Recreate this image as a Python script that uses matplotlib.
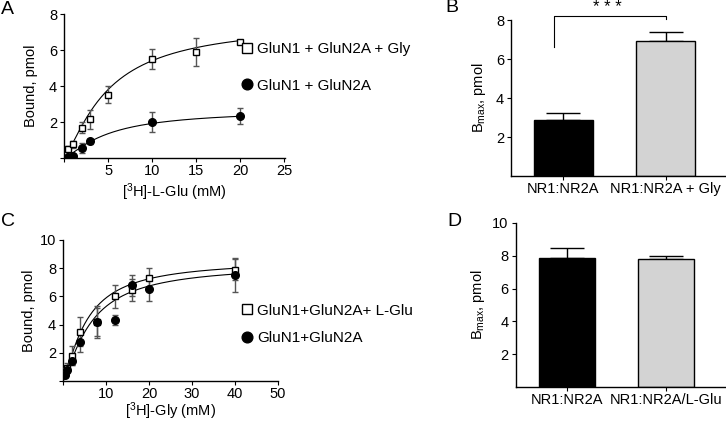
import numpy as np
import matplotlib
matplotlib.use("Agg")
import matplotlib.pyplot as plt

plt.rcParams["font.family"] = ["Liberation Sans", "DejaVu Sans"]
plt.rcParams["font.size"] = 10.5
plt.rcParams["axes.linewidth"] = 1.0
plt.rcParams["xtick.major.size"] = 3
plt.rcParams["ytick.major.size"] = 3
plt.rcParams["xtick.major.pad"] = 1.5
plt.rcParams["ytick.major.pad"] = 2

# Panel A: [3H]-L-Glu saturation binding
glu_conc_gly = [0.5, 1, 2, 3, 5, 10, 15, 20]
glu_bound_gly = [0.52, 0.75, 1.68, 2.15, 3.52, 5.5, 5.88, 6.45]
glu_err_gly = [0.12, 0.2, 0.3, 0.52, 0.47, 0.58, 0.76, 0.12]
glu_conc = [0.5, 1, 2, 3, 10, 20]
glu_bound = [0.04, 0.13, 0.55, 0.93, 1.98, 2.33]
glu_err = [0.04, 0.05, 0.3, 0.15, 0.55, 0.43]
# Hill fit parameters (Bmax, Kd, n)
fit_a_gly = (7.6, 5.0, 1.3)
fit_a = (2.7, 5.0, 1.3)

# Panel B: Bmax
b_labels = ["NR1:NR2A", "NR1:NR2A + Gly"]
b_means = [2.85, 6.9]
b_errs = [0.4, 0.46]

# Panel C: [3H]-Gly saturation binding
gly_conc_glu = [0.5, 1, 2, 4, 8, 12, 16, 20, 40]
gly_bound_glu = [0.6, 0.95, 1.8, 3.5, 4.2, 6.0, 6.45, 7.3, 7.9]
gly_err_glu = [0.3, 0.3, 0.7, 1.03, 1.15, 0.8, 0.75, 0.72, 0.74]
gly_conc = [0.5, 1, 2, 4, 8, 12, 16, 20, 40]
gly_bound = [0.45, 0.8, 1.45, 2.75, 4.2, 4.3, 6.8, 6.5, 7.5]
gly_err = [0.2, 0.25, 0.35, 0.7, 1.0, 0.36, 0.75, 0.86, 1.2]
fit_c_glu = (8.6, 5.5, 1.3)
fit_c = (8.3, 6.5, 1.3)

# Panel D: Bmax
d_labels = ["NR1:NR2A", "NR1:NR2A/L-Glu"]
d_means = [7.85, 7.82]
d_errs = [0.62, 0.18]

bar_colors = ["black", "#d3d3d3"]
err_gray = "#555555"


def hill(x, params):
    bmax, kd, n = params
    return bmax * x ** n / (kd ** n + x ** n)


def style(ax):
    ax.spines["top"].set_visible(False)
    ax.spines["right"].set_visible(False)


def binding_panel(ax, xs, ys, es, fits, labels):
    markers = [dict(marker="s", mfc="white", mec="black", ms=5, mew=1.0),
               dict(marker="o", mfc="black", mec="black", ms=5.5, mew=1.0)]
    handles = []
    for x, y, e, fit, lab, mk in zip(xs, ys, es, fits, labels, markers):
        xx = np.linspace(0, max(x), 200)
        ax.plot(xx, hill(xx, fit), color="black", lw=0.8, zorder=2)
        ax.errorbar(x, y, yerr=e, fmt="none", ecolor=err_gray, elinewidth=1.0,
                    capsize=2.5, capthick=1.0, zorder=3)
        h, = ax.plot(x, y, ls="none", zorder=4, label=lab, **mk)
        handles.append(h)
    style(ax)
    return handles


def bar_panel(ax, labels, means, errs, width):
    pos = np.arange(len(means))
    ax.bar(pos, means, width=width, color=bar_colors, edgecolor="black", lw=1.0, zorder=2)
    for p, m, e in zip(pos, means, errs):
        ax.errorbar([p], [m], yerr=[[0], [e]], fmt="none", ecolor="black",
                    elinewidth=1.0, capsize=12, capthick=1.0, zorder=1)
    ax.set_xticks(pos)
    ax.set_xticklabels(labels)
    style(ax)


fig = plt.figure(figsize=(7.26, 4.22), dpi=100)

# A
ax_a = fig.add_axes([0.0882, 0.6256, 0.3044, 0.3412])
h = binding_panel(ax_a, [glu_conc_gly, glu_conc], [glu_bound_gly, glu_bound],
                  [glu_err_gly, glu_err], [fit_a_gly, fit_a],
                  ["GluN1 + GluN2A + Gly", "GluN1 + GluN2A"])
ax_a.set_xlim(0, 25.1)
ax_a.set_ylim(0, 8)
ax_a.set_xticks([0, 5, 10, 15, 20, 25])
ax_a.set_xticklabels(["", "5", "10", "15", "20", "25"])
ax_a.set_yticks([0, 2, 4, 6, 8])
ax_a.set_yticklabels(["", "2", "4", "6", "8"])
ax_a.set_ylabel("Bound, pmol", fontsize=10.5)
ax_a.set_xlabel(r"[$\mathregular{^3}$H]-L-Glu (mM)", fontsize=10.5)
ax_a.yaxis.set_label_coords(-0.118, 0.5)
ax_a.xaxis.set_label_coords(0.5, -0.16)
ax_a.legend(handles=h, loc="center left", bbox_to_anchor=(241 / 726, 0.84),
            bbox_transform=fig.transFigure, frameon=False, fontsize=11,
            handlelength=0.8, handletextpad=0.25, borderpad=0, borderaxespad=0,
            labelspacing=1.45, markerscale=1.4)

# B
ax_b = fig.add_axes([0.7039, 0.5829, 0.2947, 0.3697])
bar_panel(ax_b, b_labels, b_means, b_errs, 0.58)
ax_b.set_xlim(-0.51, 1.58)
ax_b.set_ylim(0, 8)
ax_b.set_yticks([2, 4, 6, 8])
ax_b.set_ylabel(r"$\mathregular{B_{max}}$, pmol", fontsize=10.5)
ax_b.yaxis.set_label_coords(-0.107, 0.5)
br_top = b_means[1] + b_errs[1] + 0.85
ax_b.plot([-0.09, -0.09, 1.0, 1.0],
          [b_means[0] + b_errs[0] + 3.35, br_top, br_top, b_means[1] + b_errs[1] + 0.7],
          color="black", lw=0.8, clip_on=False)
ax_b.text(0.43, br_top + 0.2, "* * *", ha="center", va="baseline", fontsize=12)

# C
ax_c = fig.add_axes([0.0868, 0.0972, 0.2961, 0.3341])
h = binding_panel(ax_c, [gly_conc_glu, gly_conc], [gly_bound_glu, gly_bound],
                  [gly_err_glu, gly_err], [fit_c_glu, fit_c],
                  ["GluN1+GluN2A+ L-Glu", "GluN1+GluN2A"])
ax_c.set_xlim(0, 50)
ax_c.set_ylim(0, 10)
ax_c.set_xticks([0, 10, 20, 30, 40, 50])
ax_c.set_xticklabels(["", "10", "20", "30", "40", "50"])
ax_c.set_yticks([0, 2, 4, 6, 8, 10])
ax_c.set_yticklabels(["", "2", "4", "6", "8", "10"])
ax_c.set_ylabel("Bound, pmol", fontsize=10.5)
ax_c.set_xlabel(r"[$\mathregular{^3}$H]-Gly (mM)", fontsize=10.5)
ax_c.yaxis.set_label_coords(-0.126, 0.5)
ax_c.xaxis.set_label_coords(0.5, -0.135)
ax_c.legend(handles=h, loc="center left", bbox_to_anchor=(241 / 726, 0.231),
            bbox_transform=fig.transFigure, frameon=False, fontsize=11,
            handlelength=0.8, handletextpad=0.25, borderpad=0, borderaxespad=0,
            labelspacing=0.9, markerscale=1.4)

# D
ax_d = fig.add_axes([0.7103, 0.0829, 0.2883, 0.3887])
bar_panel(ax_d, d_labels, d_means, d_errs, 0.57)
ax_d.set_xlim(-0.52, 1.6)
ax_d.set_ylim(0, 10)
ax_d.set_yticks([2, 4, 6, 8, 10])
ax_d.set_ylabel(r"$\mathregular{B_{max}}$, pmol", fontsize=10.5)
ax_d.yaxis.set_label_coords(-0.137, 0.5)

for letter, (px, py) in zip("ABCD", [(7, 9), (452, 8), (8, 222), (454, 222)]):
    fig.text(px / 726, 1 - py / 422, letter, fontsize=14, ha="center", va="center")

fig.savefig("out.png", dpi=100)
